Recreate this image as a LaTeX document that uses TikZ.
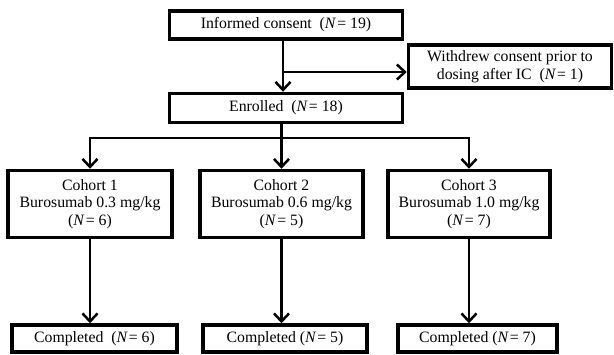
\documentclass[tikz,border=0pt]{standalone}
\usepackage{fontspec}
\setmainfont{Liberation Serif}
\usetikzlibrary{arrows.meta,positioning}

\begin{document}
\begin{tikzpicture}[
  x=1pt,y=-1pt,>={Straight Barb[length=8pt,width=15pt]},
  box/.style={draw,line width=3.5pt,align=center,inner sep=1pt},
  link/.style={->,line width=2.5pt,line join=miter},
  every node/.style={font=\fontsize{15.8}{17.5}\selectfont}
]
  \useasboundingbox (0,0) rectangle (614,354);

  \node[box,minimum width=233pt,minimum height=28pt] (consent) at (286,25)
    {Informed consent\enspace(\textit{N}\kern1pt= 19)};
  \node[box,minimum width=203pt,minimum height=43pt] (withdraw) at (510,66.5)
    {Withdrew consent prior to\\dosing after IC\enspace(\textit{N}\kern1pt= 1)};
  \node[box,minimum width=233pt,minimum height=29pt] (enrolled) at (286,108)
    {Enrolled\enspace(\textit{N}\kern1pt= 18)};

  \node[box,minimum width=164pt,minimum height=67pt] (c1) at (90,204)
    {Cohort 1\\Burosumab 0.3 mg/kg\\(\textit{N}\kern1pt= 6)};
  \node[box,minimum width=163pt,minimum height=67pt] (c2) at (281.5,204)
    {Cohort 2\\Burosumab 0.6 mg/kg\\(\textit{N}\kern1pt= 5)};
  \node[box,minimum width=162pt,minimum height=67pt] (c3) at (469,204)
    {Cohort 3\\Burosumab 1.0 mg/kg\\(\textit{N}\kern1pt= 7)};

  \node[box,minimum width=165pt,minimum height=27pt] (done1) at (94.5,338.5)
    {Completed\enspace(\textit{N}\kern1pt= 6)};
  \node[box,minimum width=164pt,minimum height=27pt] (done2) at (285,338.5)
    {Completed (\textit{N}\kern1pt= 5)};
  \node[box,minimum width=159pt,minimum height=27pt] (done3) at (477.5,338.5)
    {Completed (\textit{N}\kern1pt= 7)};

  % screening
  \coordinate (split) at (283,72);
  \coordinate (fork) at (0,138);
  \draw[link] (split |- consent.south) -- (split |- enrolled.north);
  \draw[link] (split) -- (split -| withdraw.west);

  % dose cohorts
  \draw[link] (enrolled.south -| c2.north) -- (c2.north);
  \draw[link] (c2.north |- fork) -| (c1.north);
  \draw[link] (c2.north |- fork) -| (c3.north);

  \foreach \i in {1,2,3}
    \draw[link] (c\i.south) -- (c\i.south |- done\i.north);
\end{tikzpicture}
\end{document}
